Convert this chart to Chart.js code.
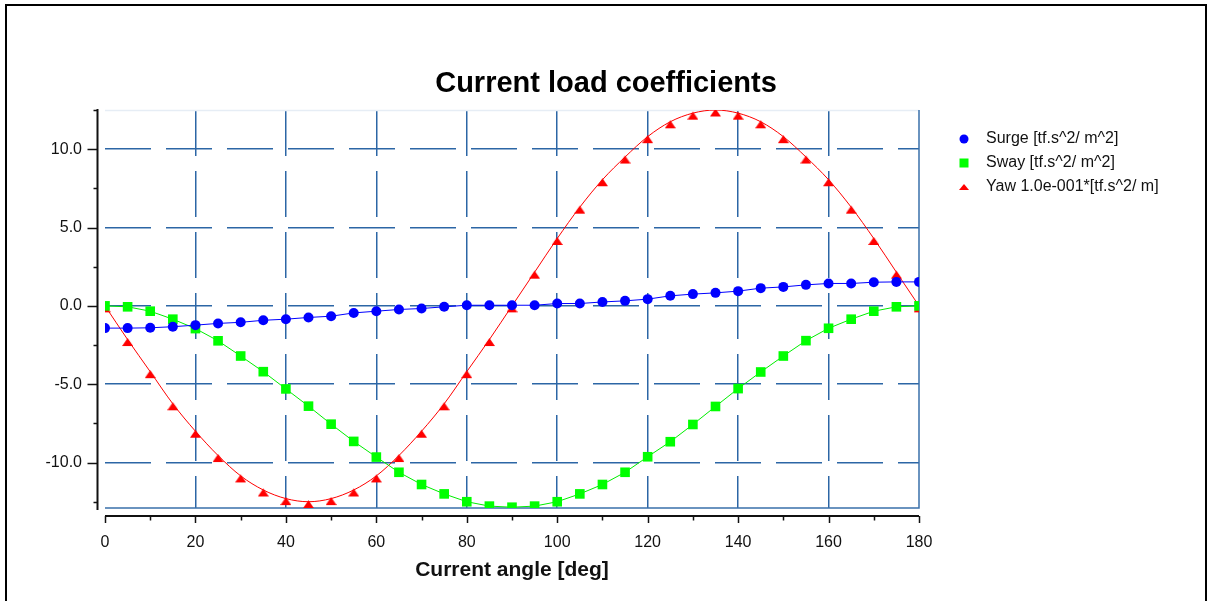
<!DOCTYPE html>
<html>
<head>
<meta charset="utf-8">
<script src="https://cdn.jsdelivr.net/npm/chart.js@4.4.0/dist/chart.umd.min.js"></script>
<style>
  html, body { margin: 0; padding: 0; background: #fff; }
  #wrap { position: relative; width: 1207px; height: 601px; }
</style>
</head>
<body>
<div id="wrap"><canvas id="c" width="1207" height="601"></canvas></div>
<script>
// current angle [deg]
const angles = [0, 5, 10, 15, 20, 25, 30, 35, 40, 45, 50, 55, 60, 65, 70, 75, 80, 85, 90,
  95, 100, 105, 110, 115, 120, 125, 130, 135, 140, 145, 150, 155, 160, 165, 170, 175, 180];

const surge = [-1.42, -1.42, -1.40, -1.33, -1.23, -1.12, -1.05, -0.92, -0.85, -0.74, -0.66, -0.45, -0.34,
  -0.23, -0.17, -0.06, 0.04, 0.04, 0.04, 0.04, 0.15, 0.15, 0.25, 0.32, 0.43, 0.64, 0.75, 0.83, 0.94,
  1.13, 1.21, 1.34, 1.43, 1.43, 1.51, 1.53, 1.53];

const sway = [0.0, -0.06, -0.34, -0.85, -1.45, -2.23, -3.2, -4.2, -5.3, -6.4, -7.55, -8.65, -9.65,
  -10.62, -11.4, -12.0, -12.5, -12.78, -12.85, -12.78, -12.5, -12.0, -11.4, -10.62, -9.63, -8.67,
  -7.57, -6.42, -5.28, -4.22, -3.2, -2.22, -1.43, -0.85, -0.34, -0.06, 0.0];

const yaw = [0, -2.15, -4.2, -6.25, -8.0, -9.55, -10.85, -11.75, -12.3, -12.5, -12.3, -11.75, -10.85,
  -9.55, -8.0, -6.25, -4.2, -2.15, 0, 2.15, 4.3, 6.3, 8.05, 9.5, 10.8, 11.75, 12.3, 12.5, 12.3,
  11.75, 10.8, 9.5, 8.05, 6.3, 4.3, 2.15, 0];

const seriesNames = ['Surge [tf.s^2/ m^2]', 'Sway [tf.s^2/ m^2]', 'Yaw 1.0e-001*[tf.s^2/ m]'];
const chartTitle = 'Current load coefficients';

const FONT = '"Liberation Sans", Arial, Helvetica, sans-serif';
const GRID = '#2c66a5';

// triangle marker, drawn a little below the data point like the original
function triangleMarker() {
  const c = document.createElement('canvas');
  c.width = 11; c.height = 15;
  const g = c.getContext('2d');
  g.fillStyle = '#ff0000';
  g.beginPath();
  g.moveTo(5.5, 6); g.lineTo(11, 14); g.lineTo(0, 14);
  g.closePath(); g.fill();
  return c;
}

const toXY = vals => vals.map((v, i) => ({ x: angles[i], y: v }));

const frame = {
  id: 'frame',
  beforeDraw(chart) {
    const { ctx, width, height } = chart;
    ctx.save();
    ctx.fillStyle = '#fff';
    ctx.fillRect(0, 0, width, height);
    ctx.fillStyle = '#000';
    ctx.fillRect(5, 4, 2, height);
    ctx.fillRect(5, 4, 1202, 2);
    ctx.fillRect(1205, 4, 2, height);
    ctx.restore();
  },
  beforeDatasetsDraw(chart) {
    const { ctx, chartArea: a } = chart;
    ctx.save();
    ctx.lineWidth = 1.5;
    ctx.strokeStyle = '#e6edf5';
    ctx.beginPath(); ctx.moveTo(a.left, a.top + 0.5); ctx.lineTo(a.right, a.top + 0.5); ctx.stroke();
    ctx.strokeStyle = '#3a70ab';
    ctx.beginPath();
    ctx.moveTo(a.left, a.bottom); ctx.lineTo(a.right, a.bottom); ctx.lineTo(a.right, a.top);
    ctx.stroke();
    ctx.restore();
  },
  afterDraw(chart) {
    const { ctx, chartArea: a, scales } = chart;
    const xs = scales.x, ys = scales.y;
    ctx.save();
    // title, centred on the whole figure
    ctx.fillStyle = '#000';
    ctx.font = 'bold 29px ' + FONT;
    ctx.textAlign = 'center';
    ctx.textBaseline = 'middle';
    ctx.fillText(chartTitle, 606, 84);

    ctx.strokeStyle = '#111';
    ctx.lineWidth = 2;
    // y axis, shifted left of the plot
    const ax = a.left - 7.5;
    ctx.beginPath(); ctx.moveTo(ax, a.top - 1); ctx.lineTo(ax, a.bottom + 2); ctx.stroke();
    for (let v = -12.5; v <= 12.5; v += 2.5) {
      const y = Math.round(ys.getPixelForValue(v)) + 0.5;
      const len = (v % 5 === 0) ? 10 : 4;
      ctx.lineWidth = 1.5;
      ctx.beginPath(); ctx.moveTo(ax, y); ctx.lineTo(ax - len, y); ctx.stroke();
    }
    // x axis, shifted below the plot
    const ay = a.bottom + 8;
    ctx.lineWidth = 2;
    ctx.beginPath(); ctx.moveTo(a.left, ay); ctx.lineTo(a.right, ay); ctx.stroke();
    for (let v = 0; v <= 180; v += 10) {
      const x = Math.round(xs.getPixelForValue(v)) + 0.5;
      const len = (v % 20 === 0) ? 7 : 4.5;
      ctx.lineWidth = 1.5;
      ctx.beginPath(); ctx.moveTo(x, ay); ctx.lineTo(x, ay + len); ctx.stroke();
    }
    // legend
    const rows = [139, 163, 187];
    const mx = 964;
    ctx.fillStyle = '#0000ff';
    ctx.beginPath(); ctx.arc(mx, rows[0], 4.5, 0, Math.PI * 2); ctx.fill();
    ctx.fillStyle = '#00ff00';
    ctx.fillRect(mx - 4.5, rows[1] - 4.5, 9, 9);
    ctx.fillStyle = '#ff0000';
    ctx.beginPath();
    ctx.moveTo(mx, rows[2] - 3); ctx.lineTo(mx + 5, rows[2] + 3); ctx.lineTo(mx - 5, rows[2] + 3);
    ctx.closePath(); ctx.fill();
    ctx.fillStyle = '#111';
    ctx.font = '16px ' + FONT;
    ctx.textBaseline = 'middle';
    ctx.textAlign = 'left';
    seriesNames.forEach((s, i) => ctx.fillText(s, 986, rows[i]));
    ctx.restore();
  }
};

new Chart(document.getElementById('c'), {
  type: 'line',
  data: {
    datasets: [
      {
        label: seriesNames[0],
        data: toXY(surge),
        borderColor: '#0000ff',
        backgroundColor: '#0000ff',
        borderWidth: 1,
        pointStyle: 'circle',
        pointRadius: 5,
        pointBorderWidth: 0,
        tension: 0
      },
      {
        label: seriesNames[1],
        data: toXY(sway),
        borderColor: '#00ee00',
        backgroundColor: '#00ff00',
        borderWidth: 1,
        pointStyle: 'rect',
        pointRadius: 6.8,
        pointBorderWidth: 0,
        tension: 0
      },
      {
        label: seriesNames[2],
        data: toXY(yaw),
        borderColor: '#ff0000',
        backgroundColor: '#ff0000',
        borderWidth: 1,
        pointStyle: triangleMarker(),
        pointRadius: 5,
        pointBorderWidth: 0,
        cubicInterpolationMode: 'monotone'
      }
    ]
  },
  options: {
    responsive: false,
    animation: false,
    events: [],
    layout: { padding: { left: 0, right: 288, top: 110, bottom: 0 } },
    scales: {
      x: {
        type: 'linear',
        min: 0,
        max: 180,
        afterFit: s => { s.height = 93; },
        ticks: {
          stepSize: 20,
          padding: 25,
          color: '#111',
          font: { family: FONT, size: 16 }
        },
        grid: {
          drawTicks: false,
          lineWidth: 1.5,
          color: c => (c.tick && (c.tick.value === 0 || c.tick.value === 180)) ? 'rgba(0,0,0,0)' : GRID
        },
        border: { display: false, dash: [46, 15] },
        title: {
          display: true,
          text: 'Current angle [deg]',
          color: '#111',
          font: { family: FONT, size: 21, weight: 'bold' },
          padding: { top: 0, bottom: 18.4 }
        }
      },
      y: {
        type: 'linear',
        min: -12.9,
        max: 12.5,
        afterFit: s => { s.width = 105; },
        ticks: {
          stepSize: 5,
          includeBounds: false,
          padding: 23,
          color: '#111',
          font: { family: FONT, size: 16 },
          callback: v => v.toFixed(1)
        },
        grid: { drawTicks: false, lineWidth: 1.5, color: GRID },
        border: { display: false, dash: [46, 15] }
      }
    },
    plugins: {
      legend: { display: false },
      tooltip: { enabled: false },
      title: { display: false }
    }
  },
  plugins: [frame]
});
</script>
</body>
</html>
